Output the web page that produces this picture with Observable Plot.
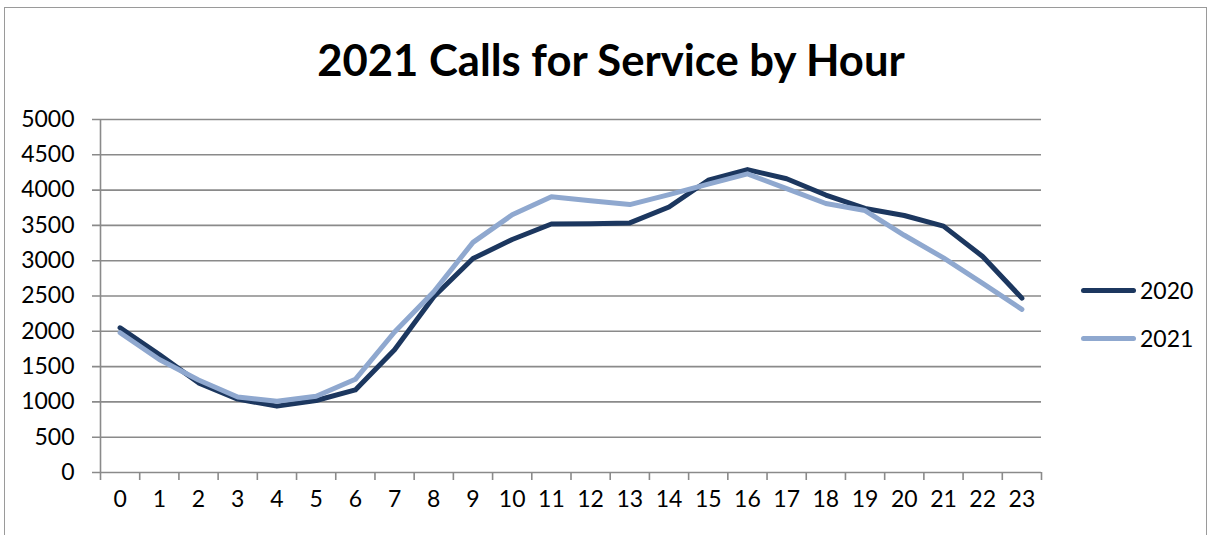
<!DOCTYPE html>
<html><head><meta charset="utf-8">
<script src="https://cdn.jsdelivr.net/npm/d3@7"></script>
<script src="https://cdn.jsdelivr.net/npm/@observablehq/plot@0.6"></script>
<style>
body{margin:0;background:#fff;font-family:Lato,"Open Sans",sans-serif;}
#wrap{position:relative;width:1215px;height:535px;overflow:hidden;background:#fff;}
#frame{position:absolute;left:4px;top:7px;width:1201px;height:560px;border:1px solid #9a9a9a;box-sizing:content-box;}
#chart{position:absolute;left:0;top:0;}
#title{position:absolute;left:0;width:1222px;top:33px;text-align:center;font-weight:700;font-size:43.6px;line-height:52px;color:#000;}
#legend{position:absolute;left:1081px;top:266px;}
.item{display:flex;align-items:center;height:48px;}
.sw{width:55px;height:5px;border-radius:3px;margin-right:4px;}
.lab{font-size:23px;color:#000;}
</style>
</head><body>
<div id="wrap">
  <div id="frame"></div>
  <div id="chart"></div>
  <div id="title">2021 Calls for Service by Hour</div>
  <div id="legend"></div>
</div>
<script>
const hourLabels = ["0","1","2","3","4","5","6","7","8","9","10","11","12","13","14","15","16","17","18","19","20","21","22","23"];
const calls2020 = [2050,1670,1270,1040,940,1020,1170,1740,2490,3030,3300,3520,3525,3535,3760,4140,4290,4160,3930,3740,3640,3490,3060,2470];
const calls2021 = [1980,1600,1310,1070,1010,1080,1320,1990,2560,3260,3650,3905,3850,3795,3935,4085,4230,4020,3810,3710,3360,3040,2680,2310];
const seriesNames = ["2020","2021"];
const seriesColors = ["#1c375f","#8fa8cf"];
const yTicks = [0,500,1000,1500,2000,2500,3000,3500,4000,4500,5000];
const yTickLabels = ["0","500","1000","1500","2000","2500","3000","3500","4000","4500","5000"];
const xBoundaries = [0,1,2,3,4,5,6,7,8,9,10,11,12,13,14,15,16,17,18,19,20,21,22,23,24];

const data = [];
hourLabels.forEach((h, i) => {
  data.push({pos: i + 0.5, series: seriesNames[0], value: calls2020[i]});
  data.push({pos: i + 0.5, series: seriesNames[1], value: calls2021[i]});
});

const chart = Plot.plot({
  width: 1215,
  height: 535,
  marginLeft: 100,
  marginRight: 174,
  marginTop: 119,
  marginBottom: 63,
  style: {fontFamily: "Lato, 'Open Sans', sans-serif", fontSize: "23px", color: "#000", background: "transparent"},
  x: {domain: [0, 24], axis: null},
  y: {domain: [0, 5000], axis: null},
  color: {domain: seriesNames, range: seriesColors},
  marks: [
    Plot.ruleY(yTicks, {stroke: "#8a8a8a", strokeWidth: 1.6, insetLeft: -8}),
    Plot.ruleX([0], {stroke: "#8a8a8a", strokeWidth: 1.6}),
    Plot.ruleX(xBoundaries, {y1: 0, y2: 0, insetBottom: -8, stroke: "#8a8a8a", strokeWidth: 1.6}),
    Plot.text(yTicks, {y: d => d, text: (d, i) => yTickLabels[i], frameAnchor: "left", dx: -26, textAnchor: "end", fill: "#000", fontSize: 23}),
    Plot.text(hourLabels, {x: (d, i) => i + 0.5, text: d => d, frameAnchor: "bottom", dy: 34, fill: "#000", fontSize: 23}),
    Plot.line(data, {x: "pos", y: "value", z: "series", stroke: "series", strokeWidth: 5, strokeLinejoin: "round", strokeLinecap: "round"})
  ]
});
document.getElementById("chart").appendChild(chart);

const legend = document.getElementById("legend");
seriesNames.forEach((name, i) => {
  const item = document.createElement("div");
  item.className = "item";
  const sw = document.createElement("div");
  sw.className = "sw";
  sw.style.background = seriesColors[i];
  const lab = document.createElement("span");
  lab.className = "lab";
  lab.textContent = name;
  item.appendChild(sw);
  item.appendChild(lab);
  legend.appendChild(item);
});
</script>
</body></html>
